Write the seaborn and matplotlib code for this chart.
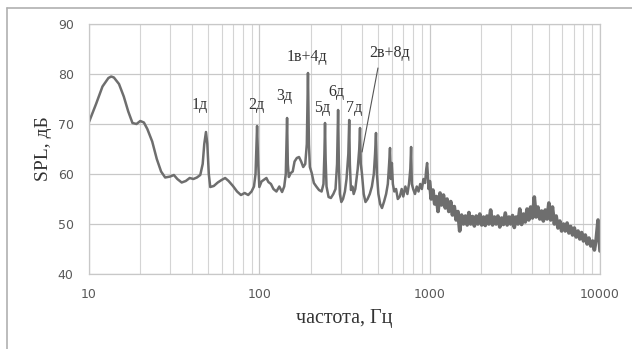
import numpy as np
import pandas as pd
import matplotlib
matplotlib.use("Agg")
import matplotlib.pyplot as plt
from matplotlib.lines import Line2D
from matplotlib.ticker import FixedLocator, LogLocator, NullFormatter
import seaborn as sns

# ---- data ----
freq_low = [10, 11, 12, 13, 13.5, 14, 15, 16, 17, 18, 19, 20, 21, 22, 23.5, 25, 26.5, 28,
            30, 31.5, 33, 35, 37, 39, 41, 43, 45, 46.5, 47.5, 48.6, 49.5, 50.5, 51.5, 54,
            57, 60, 63, 66, 70, 74, 78, 82, 86, 90, 93, 95, 97, 98.5, 100, 103, 106, 110,
            113, 117, 121, 126, 131, 136, 140, 143, 145.5, 147, 149, 153, 157, 161, 166,
            171, 176, 181, 186, 190, 193, 195.5, 198, 203, 209, 216, 224, 232, 238, 241,
            243, 245, 248, 255, 263, 272, 280, 286, 290, 293, 297, 303, 310, 318, 325, 333,
            337, 340, 345, 352, 358, 366, 378, 386, 390, 394, 400, 410, 420, 432, 445, 458,
            470, 478, 484, 490, 500, 512, 525, 540, 555, 568, 578, 585, 592, 600, 608, 620,
            635, 650, 668, 685, 700, 720, 740, 756, 770, 778, 786, 800, 820, 840, 860, 880,
            900, 920, 940, 955, 966, 975, 985, 1000]
spl_low = [70.4, 74, 77.5, 79.2, 79.5, 79.3, 78, 75.5, 72.5, 70.2, 70.0, 70.6, 70.3, 69,
           66.5, 63, 60.5, 59.3, 59.5, 59.8, 59, 58.3, 58.6, 59.2, 59.0, 59.3, 59.8, 62, 66,
           68.4, 66, 60, 57.4, 57.6, 58.3, 58.8, 59.2, 58.6, 57.6, 56.5, 55.8, 56.2, 55.8,
           56.5, 57.5, 60, 69.6, 62, 57.4, 58.5, 58.8, 59.2, 58.4, 58.0, 57, 56.5, 57.5,
           56.4, 57.5, 60, 71.2, 62, 59.4, 60.2, 60.5, 62.5, 63.2, 63.4, 62.5, 61.4, 62, 66,
           80.2, 66, 61.4, 60.2, 58.2, 57.5, 56.8, 56.5, 58, 64, 70.2, 63, 57.5, 55.4, 55.2,
           56, 57, 62, 72.8, 62, 56, 54.4, 55, 56.5, 59, 64, 70.8, 62, 56.8, 57.5, 56, 57,
           61, 65, 69.2, 62, 60.2, 56, 54.4, 55, 56, 57.5, 60, 64, 68.2, 60, 56, 54, 53.2,
           54.5, 56, 58, 62, 65.2, 59, 62.2, 58, 56.5, 57, 55, 55.5, 57, 55.5, 57.5, 56, 58,
           61, 65.4, 58, 57, 56, 57.5, 56.5, 58, 57, 59, 58.2, 61, 62.2, 60, 57, 58.5]

freq_high = [1000, 1020, 1045, 1070, 1095, 1120, 1150, 1175, 1205, 1235, 1265, 1295, 1330,
             1360, 1395, 1430, 1465, 1500, 1540, 1580, 1620, 1660, 1700, 1740, 1785, 1830,
             1875, 1920, 1970, 2020, 2070, 2120, 2170, 2225, 2280, 2340, 2400, 2455, 2515,
             2580, 2645, 2710, 2780, 2850, 2920, 2990, 3065, 3140, 3220, 3300, 3380, 3465,
             3550, 3640, 3730, 3820, 3915, 4015, 4115, 4215, 4320, 4430, 4540, 4650, 4770,
             4890, 5010, 5135, 5260, 5395, 5530, 5665, 5810, 5950, 6100, 6250, 6410, 6570,
             6730, 6900, 7070, 7250, 7430, 7610, 7800, 8000, 8200, 8400, 8610, 8830, 9050,
             9270, 9500, 9740, 10000]
spl_high = [58.5, 55, 56.8, 54, 55.5, 52.5, 56.2, 53.8, 55.8, 53.2, 55, 52.5, 54.5, 51.8,
            53.5, 50.8, 52.5, 48.6, 51.8, 50, 51.6, 49.8, 52.3, 50, 51.5, 49.6, 51.6, 50,
            52, 49.8, 51.4, 49.7, 51.6, 50, 52.8, 49.8, 51.4, 50, 51.6, 49.4, 51.2, 49.9,
            52.2, 49.8, 51.4, 50, 51.7, 49.3, 51.4, 50, 53, 49.9, 52, 50.4, 53, 50.8,
            53.4, 51.2, 55.4, 51.4, 53.4, 51, 52.6, 50.6, 52.8, 51, 54.2, 50.8, 53.4, 50,
            51.6, 49.2, 50.6, 48.6, 50, 48.6, 50.2, 48.2, 49.5, 47.8, 49.2, 47.4, 48.6,
            47, 48.3, 46.6, 47.8, 46, 47.2, 45.6, 46.6, 44.8, 47, 50.8, 44.6]

labels = ["1д", "2д", "3д", "1в+4д", "5д", "6д", "7д", "2в+8д"]
label_x = [44.9, 95.7, 140, 191, 233, 283, 360, 585]
label_y = [73.8, 73.8, 75.6, 83.4, 73.2, 76.4, 73.2, 84.2]

x_ticks = [10, 100, 1000, 10000]
y_ticks = [40, 50, 60, 70, 80, 90]

df_low = pd.DataFrame({"f": freq_low, "spl": spl_low})
df_high = pd.DataFrame({"f": freq_high, "spl": spl_high})

sns.set_style("white")
plt.rcParams["font.family"] = ["DejaVu Sans"]

fig = plt.figure(figsize=(6.32, 3.49), dpi=100)
ax = fig.add_axes([89 / 632, 1 - 274 / 349, (600 - 89) / 632, (274 - 24) / 349])

line_color = "#6e6e6e"
sns.lineplot(data=df_low, x="f", y="spl", ax=ax, color=line_color, linewidth=1.8,
             estimator=None, sort=False)
sns.lineplot(data=df_high, x="f", y="spl", ax=ax, color=line_color, linewidth=2.6,
             estimator=None, sort=False)

ax.set_xscale("log")
ax.set_xlim(10, 10000)
ax.set_ylim(40, 90)
ax.xaxis.set_major_locator(FixedLocator(x_ticks))
ax.set_xticklabels([str(t) for t in x_ticks])
ax.xaxis.set_minor_locator(LogLocator(base=10, subs=np.arange(2, 10)))
ax.xaxis.set_minor_formatter(NullFormatter())
ax.set_yticks(y_ticks)
ax.set_yticklabels([str(t) for t in y_ticks])

ax.grid(True, which="major", axis="both", color="#c8c8c8", linewidth=0.9)
ax.grid(True, which="minor", axis="x", color="#d4d4d4", linewidth=0.8)
ax.set_axisbelow(True)
for s in ax.spines.values():
    s.set_color("#c8c8c8")
    s.set_linewidth(0.9)

ax.tick_params(axis="both", which="both", length=0, labelsize=9, labelcolor="#595959")
ax.tick_params(axis="x", pad=10)
ax.tick_params(axis="y", pad=11)

ax.set_xlabel("частота, Гц", family="Liberation Serif", fontsize=14.5, color="#333333",
              labelpad=6)
ax.set_ylabel("SPL, дБ", family="Liberation Serif", fontsize=14, color="#333333",
              labelpad=4)

for t, lx, ly in zip(labels, label_x, label_y):
    ax.text(lx, ly, t, family="Liberation Serif", fontsize=11.5, color="#333333",
            ha="center", va="center")
ax.plot([497, 401], [81.2, 64.4], color="#555555", linewidth=0.8)

# outer chart border (left and top)
fig.add_artist(Line2D([7 / 632, 7 / 632], [0, 1 - 8 / 349], transform=fig.transFigure,
                      color="#b0b0b0", linewidth=1.2))
fig.add_artist(Line2D([7 / 632, 1], [1 - 8 / 349, 1 - 8 / 349], transform=fig.transFigure,
                      color="#b0b0b0", linewidth=1.2))

fig.savefig("out.png", dpi=100)
